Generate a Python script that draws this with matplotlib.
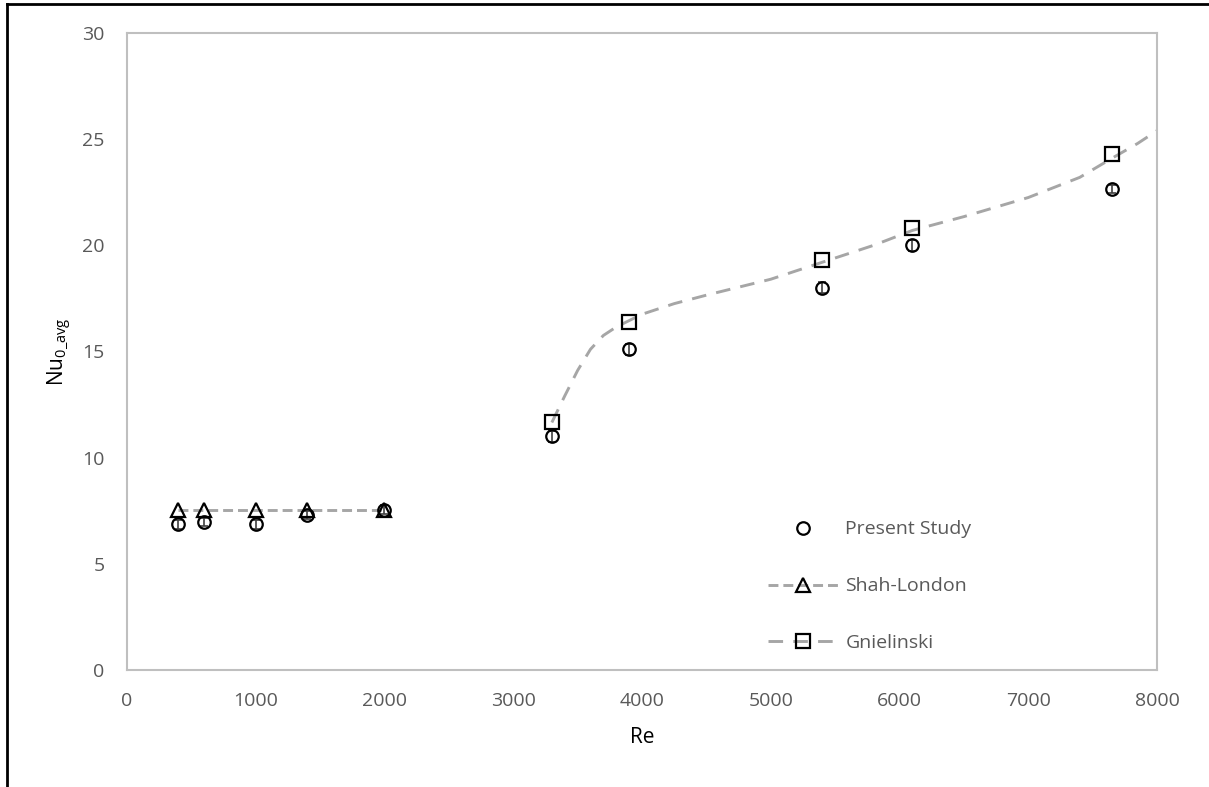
import matplotlib.pyplot as plt
from matplotlib.lines import Line2D

plt.rcParams['font.family'] = ['Open Sans', 'DejaVu Sans']

# Present study measurements
re_study = [400, 600, 1000, 1400, 2000, 3300, 3900, 5400, 6100, 7650]
nu_study = [6.85, 6.95, 6.85, 7.3, 7.55, 11.0, 15.1, 18.0, 20.0, 22.65]
nu_err = [0.2, 0.2, 0.2, 0.2, 0.2, 0.25, 0.25, 0.25, 0.25, 0.2]

# Shah-London laminar correlation
re_shah = [400, 600, 1000, 1400, 2000]
nu_shah = [7.54, 7.54, 7.54, 7.54, 7.54]

# Gnielinski correlation at the measured Re
re_gn = [3300, 3900, 5400, 6100, 7650]
nu_gn = [11.65, 16.4, 19.3, 20.8, 24.3]

# Gnielinski curve
re_gn_curve = [3300, 3400, 3500, 3600, 3700, 3800, 3900, 4000, 4250, 4500,
               5000, 5400, 5800, 6100, 6500, 7000, 7400, 7650, 7850, 8000]
nu_gn_curve = [11.65, 12.9, 14.1, 15.1, 15.75, 16.15, 16.45, 16.75, 17.25, 17.65,
               18.4, 19.2, 20.0, 20.7, 21.35, 22.25, 23.2, 24.1, 24.8, 25.4]

line_grey = '#A6A6A6'
text_grey = '#595959'
shah_dash = (3.4, 1.7)
gn_dash = (5, 3.5)

fig = plt.figure(figsize=(12.09, 7.87), dpi=100)
ax = fig.add_axes([0.105, 0.149, 0.852, 0.809])

ax.plot(re_gn_curve, nu_gn_curve, color=line_grey, lw=2.1, dashes=gn_dash, zorder=2)
ax.plot(re_shah, nu_shah, color=line_grey, lw=2.1, dashes=shah_dash, zorder=2)

ax.errorbar(re_study, nu_study, yerr=nu_err, fmt='none', ecolor='#404040',
            elinewidth=1.2, capsize=3, capthick=1.2, zorder=3)
ax.plot(re_study, nu_study, 'o', ms=9, mfc='none', mec='black', mew=1.6, zorder=4)
ax.plot(re_shah, nu_shah, '^', ms=9.5, mfc='none', mec='black', mew=1.6, zorder=4)
ax.plot(re_gn, nu_gn, 's', ms=10, mfc='none', mec='black', mew=1.6, zorder=4)

ax.set_xlim(0, 8000)
ax.set_ylim(0, 30)
ax.set_xticks(range(0, 8001, 1000))
ax.set_yticks(range(0, 31, 5))
ax.tick_params(length=0, labelsize=14, labelcolor=text_grey)
ax.tick_params(axis='x', pad=16)
ax.tick_params(axis='y', pad=16)
for s in ax.spines.values():
    s.set_color('#BFBFBF')
    s.set_linewidth(1.5)

ax.set_xlabel('Re', fontsize=15, color='black', labelpad=12)
ax.set_ylabel(r'Nu$_{\mathregular{0\_avg}}$', fontsize=15, color='black', labelpad=6)

handles = [
    Line2D([], [], ls='none', marker='o', ms=9, mfc='none', mec='black', mew=1.6),
    Line2D([], [], color=line_grey, lw=2.1, dashes=shah_dash, marker='^', ms=9.5,
           mfc='none', mec='black', mew=1.6),
    Line2D([], [], color=line_grey, lw=2.1, dashes=gn_dash, marker='s', ms=10,
           mfc='none', mec='black', mew=1.6),
]
ax.legend(handles, ['Present Study', 'Shah-London', 'Gnielinski'],
          loc='lower left', bbox_to_anchor=(0.605, 0.0), frameon=False,
          fontsize=14, labelcolor=text_grey, labelspacing=2.0, handlelength=3.6,
          handletextpad=0.4)

# outer frame edges
fig.add_artist(Line2D([0.0058, 0.0058], [0, 0.995], transform=fig.transFigure,
                      color='black', lw=2))
fig.add_artist(Line2D([0.0058, 1.0], [0.995, 0.995], transform=fig.transFigure,
                      color='black', lw=2))

fig.savefig('out.png', dpi=100)
